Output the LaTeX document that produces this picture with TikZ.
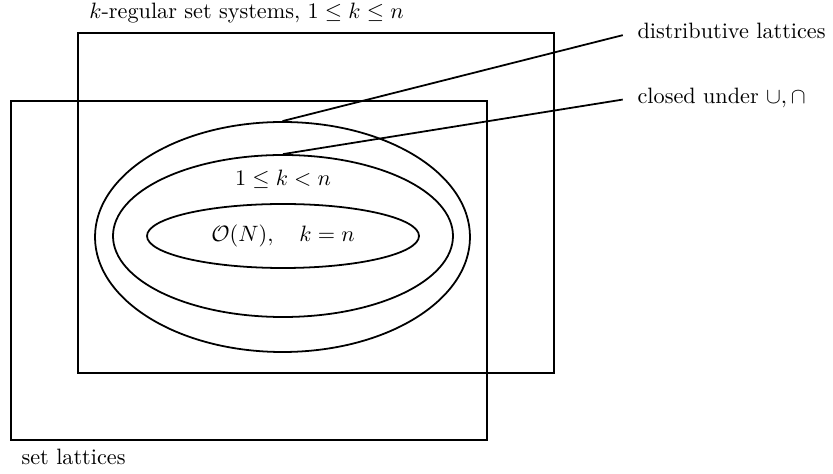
\documentclass[tikz,border=0pt]{standalone}
\usetikzlibrary{positioning, shapes.geometric, calc}
\usepackage{amsmath}

\begin{document}
\begin{tikzpicture}[x=0.45pt, y=-0.45pt, thick,
    oval/.style={draw, ellipse, inner sep=0pt},
    lbl/.style={anchor=base west}]
    \useasboundingbox (0,0) rectangle (833,474);
    % the two families of set systems
    \draw (78,33) rectangle (554,373);
    \draw (11,101) rectangle (487,440);
    \node[lbl, inner sep=0.5pt] (kreg) at (87.3,18.5) {$k$-regular set systems, $1\le k\le n$};
    \node[lbl] (setlat) at (13.3,465) {set lattices};
    % nested classes
    \node[oval, minimum width=168.75pt, minimum height=103.5pt] (distr) at (282.5,237) {};
    \node[oval, minimum width=153pt, minimum height=72.9pt] (closed) at (283,236) {};
    \node[oval, minimum width=122.4pt, minimum height=28.8pt] (orders) at (283,236)
      {$\mathcal{O}(N),\quad k=n$};
    \node[anchor=base] (kless) at (283,186) {$1\le k<n$};
    % labels on the right
    \node[lbl] (distrlbl) at (629.3,38.3) {distributive lattices};
    \node[lbl] (closedlbl) at (629.3,103.3) {closed under $\cup,\cap$};
    \draw[shorten >=3pt] (distr.north) -- (distrlbl.mid west);
    \draw[shorten >=3pt] (closed.north) -- (closedlbl.mid west);
  \end{tikzpicture}
\end{document}
